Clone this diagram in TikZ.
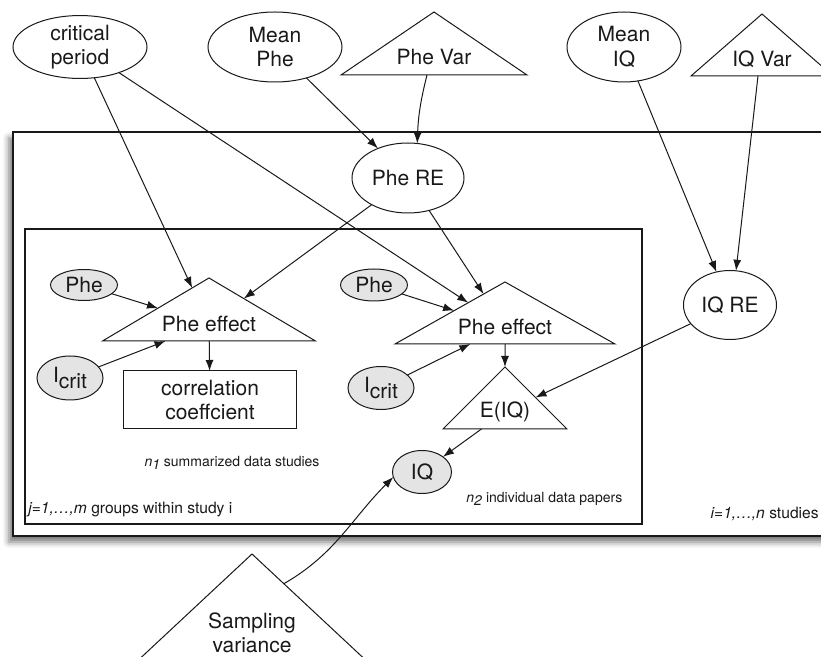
\documentclass[tikz,border=0pt]{standalone}
\usepackage{fontspec}
\setmainfont{TeX Gyre Heros}
\usetikzlibrary{
    arrows.meta,
    shapes.geometric,
    shadows.blur,
    positioning
}
\definecolor{ink}{RGB}{25,25,25}
\definecolor{observed}{RGB}{228,228,228}
\newcommand{\mainsize}{\fontsize{10.5}{12.3}\selectfont}
\newcommand{\smallsize}{\fontsize{7}{8.5}\selectfont}
\newcommand{\indexsize}{\fontsize{7.8}{9}\selectfont}
\newcommand{\Icrit}{I\raisebox{-0.55ex}{crit}}
\tikzset{
    line cap=round,
    line join=round,
    latent/.style={
        ellipse,
        draw=ink,
        line width=0.5pt,
        fill=white,
        text=ink,
        inner sep=0pt,
        outer sep=0pt,
        align=center,
        font=\mainsize
    },
    observed/.style={latent, fill=observed},
    hyper/.style={
        isosceles triangle,
        isosceles triangle stretches,
        isosceles triangle apex angle=110,
        shape border rotate=90,
        draw=ink,
        line width=0.5pt,
        fill=white,
        text=ink,
        inner sep=0pt,
        outer sep=0pt,
        align=center,
        font=\mainsize
    },
    databox/.style={
        rectangle,
        draw=ink,
        line width=0.5pt,
        fill=white,
        text=ink,
        outer sep=0pt,
        align=center,
        font=\mainsize
    },
    plate/.style={
        draw=ink,
        line width=0.6pt
    },
    depends/.style={
        -{Latex[length=5.5pt, width=4pt]},
        draw=ink,
        line width=0.5pt
    },
    platelabel/.style={
        font=\smallsize,
        text=ink,
        inner sep=0pt
    },
    indexlabel/.style={
        platelabel,
        font=\indexsize
    }
}

\begin{document}
\begin{tikzpicture}[x=0.5pt, y=-0.5pt]
\useasboundingbox (0,0) rectangle (821,657);

% plates
\draw[plate, fill=white, blur shadow={shadow xshift=-2pt, shadow yshift=-3pt, shadow blur radius=3pt, shadow opacity=55}] (13,132) rectangle (834,536);
\draw[plate] (25,229) rectangle (642,524);

% top level
\node[latent, minimum width=67pt, minimum height=29pt] (critical) at (80,47) {critical\\period};
\node[latent, minimum width=67pt, minimum height=35pt] (meanphe) at (275,47) {Mean\\Phe};
\node[hyper, minimum width=93pt, minimum height=31.5pt, anchor=apex] (phevar) at (434,12) {Phe Var};
\node[latent, minimum width=57pt, minimum height=35pt] (meaniq) at (624,47) {Mean\\IQ};
\node[hyper, minimum width=71pt, minimum height=31pt, anchor=apex] (iqvar) at (762,14) {IQ Var};

% study level
\node[latent, minimum width=56pt, minimum height=35pt] (phere) at (408,178) {Phe RE};
\node[latent, minimum width=46.5pt, minimum height=34.5pt] (iqre) at (730,305) {IQ RE};

% summarized data studies
\node[observed, minimum width=33.5pt, minimum height=15.5pt] (phesum) at (84,285) {Phe};
\node[observed, minimum width=33pt, minimum height=22pt] (icritsum) at (70,378) {\Icrit};
\node[hyper, minimum width=106.5pt, minimum height=31.5pt, anchor=apex] (effectsum) at (209,278) {Phe effect};
\node[databox, minimum width=86.5pt, minimum height=29pt] (corr) at (210,400) {correlation\\coeffcient};

% individual data papers
\node[observed, minimum width=33.5pt, minimum height=16pt] (pheind) at (374,285) {Phe};
\node[observed, minimum width=33pt, minimum height=21.5pt] (icritind) at (381,388) {\Icrit};
\node[hyper, minimum width=110pt, minimum height=31pt, anchor=apex] (effectind) at (505,282) {Phe effect};
\node[hyper, minimum width=62pt, minimum height=31pt, anchor=apex] (eiq) at (505,367) {E(IQ)};
\node[observed, minimum width=29.5pt, minimum height=21.5pt] (iq) at (422,472) {IQ};

% sampling
\node[hyper, minimum width=120pt, minimum height=56pt, anchor=apex] (sampvar) at (252,554) {Sampling\\variance};

% plate labels
\node[platelabel] (sumlabel) at (232,463) {\textit{n}\raisebox{-0.5ex}{\textit{1}} summarized data studies};
\node[indexlabel, anchor=west] (grouplabel) at (28,510) {\textit{j=1,\dots,m} groups within study i};
\node[platelabel, anchor=west] (indlabel) at (466,499) {\textit{n}\raisebox{-0.5ex}{\textit{2}} individual data papers};
\node[indexlabel, anchor=east] (studylabel) at (819,514) {\textit{i=1,\dots,n} studies};

% dependencies
\draw[depends] (critical) -- (effectsum);
\draw[depends] (critical) -- (effectind);
\draw[depends] (meanphe) -- (phere);
\draw[depends] ([xshift=-3.5pt]phevar.lower side) to[bend right=6] (phere.75);
\draw[depends] (meaniq) -- (iqre);
\draw[depends] ([xshift=-2pt]iqvar.lower side) -- (iqre.80);
\draw[depends] (phere) -- (effectsum);
\draw[depends] (phere) -- (effectind);
\draw[depends] (phesum) -- (effectsum);
\draw[depends] (icritsum) -- (effectsum);
\draw[depends] (effectsum) -- (corr);
\draw[depends] (pheind) -- (effectind);
\draw[depends] (icritind) -- (effectind);
\draw[depends] (effectind) -- (eiq);
\draw[depends] (iqre) -- (eiq);
\draw[depends] (eiq) -- (iq);
\draw[depends] (sampvar.57) to[out=30, in=225] (iq.190);
\end{tikzpicture}
\end{document}
